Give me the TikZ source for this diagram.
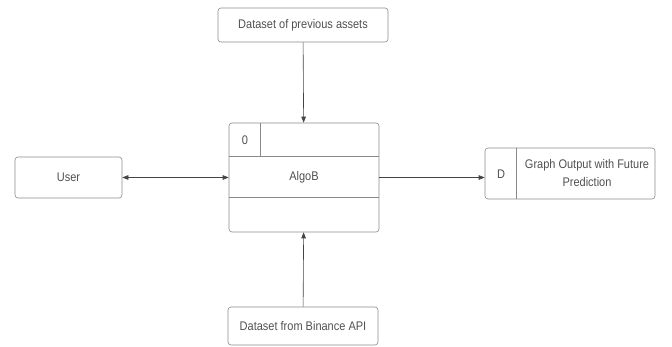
\documentclass[tikz,border=0pt]{standalone}
\usepackage{fontspec}
\setmainfont{Liberation Sans}[FakeStretch=0.88]
\usepackage{xcolor}
\usetikzlibrary{arrows.meta,positioning}
\definecolor{boxline}{HTML}{8A8A8A}
\definecolor{boxtext}{HTML}{505050}
\definecolor{flowline}{HTML}{444444}

\begin{document}
\begin{tikzpicture}[x=1pt, y=-1pt,
  label text/.style={text=boxtext, font=\fontsize{12.5}{18}\selectfont},
  entity/.style={draw=boxline, line width=0.6pt, rounded corners=3pt,
    label text, inner sep=2pt},
  flow/.style={draw=flowline, line width=0.6pt,
    -{Triangle[length=6pt, width=4.5pt]}},
  biflow/.style={flow, {Triangle[length=6pt, width=4.5pt]}-{Triangle[length=6pt, width=4.5pt]}}
]
\useasboundingbox (0,0) rectangle (672,347);

% External entities
\node[entity, minimum width=170pt, minimum height=34pt] (prevdata) at (303,25) {Dataset of previous assets};
\node[entity, minimum width=107pt, minimum height=41pt] (user) at (68.5,177.5) {User};
\node[entity, minimum width=150pt, minimum height=38pt] (binance) at (303,326) {Dataset from Binance API};

% Process AlgoB
\node[entity, minimum width=150pt, minimum height=109pt] (algob) at (304,177.5) {};
\draw[boxline, line width=0.6pt] ([yshift=-34pt]algob.north west) -- ([yshift=-34pt]algob.north east);
\draw[boxline, line width=0.6pt] ([yshift=35pt]algob.south west) -- ([yshift=35pt]algob.south east);
\draw[boxline, line width=0.6pt] ([xshift=32pt]algob.north west) -- ([xshift=32pt, yshift=-34pt]algob.north west);
\node[label text] (procid) at (245,140) {0};
\node[label text] (procname) at (304,177) {AlgoB};

% Data store
\node[entity, minimum width=170pt, minimum height=51pt] (output) at (570,173.5) {};
\draw[boxline, line width=0.6pt] ([xshift=32pt]output.north west) -- ([xshift=32pt]output.south west);
\node[label text] (storeid) at (501,174) {D};
\node[label text, align=center, inner sep=0pt] (storename) at (587,173) {Graph Output with Future\\Prediction};

% Flows
\draw[flow] (prevdata) -- (algob);
\draw[flow] (binance) -- (algob);
\draw[biflow] (user.east |- algob.west) -- (algob.west);
\draw[flow] (algob.east) -- (output.west |- algob.east);

\end{tikzpicture}
\end{document}
